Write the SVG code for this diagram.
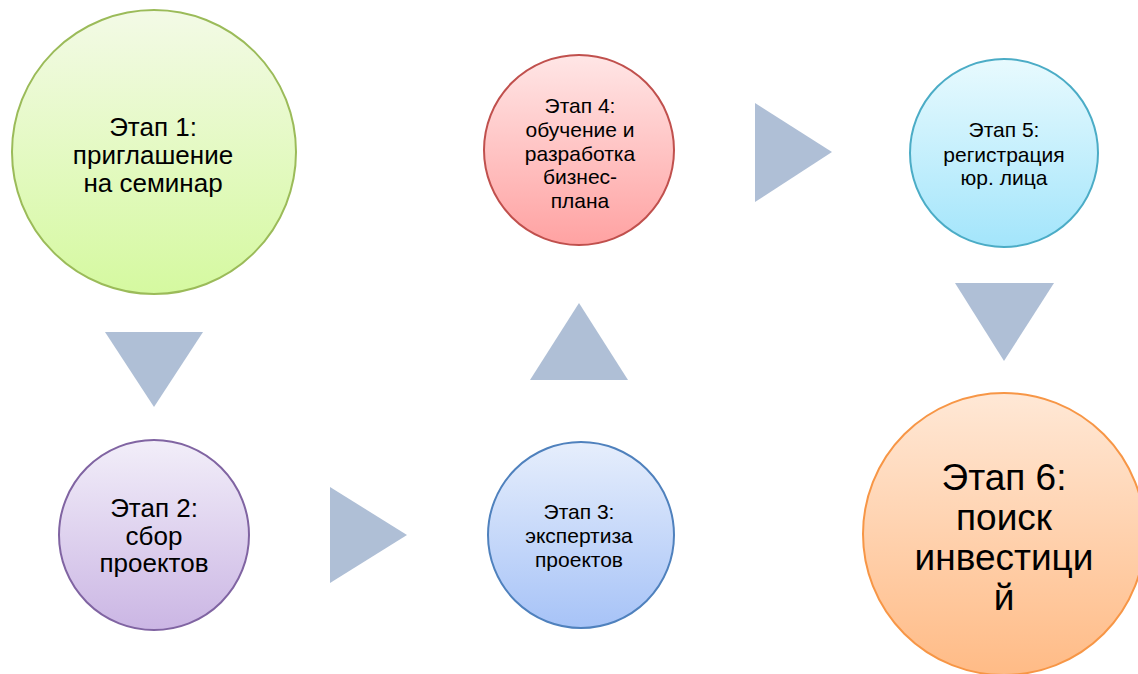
<svg xmlns="http://www.w3.org/2000/svg" width="1138" height="674" viewBox="0 0 1138 674">
<defs>
<linearGradient id="gGreen" x1="0" y1="0" x2="0" y2="1"><stop offset="0" stop-color="#F3FAE6"/><stop offset="1" stop-color="#D5F9A0"/></linearGradient>
<linearGradient id="gPurple" x1="0" y1="0" x2="0" y2="1"><stop offset="0" stop-color="#F2EEF9"/><stop offset="1" stop-color="#CBB6E4"/></linearGradient>
<linearGradient id="gBlue" x1="0" y1="0" x2="0" y2="1"><stop offset="0" stop-color="#E6EEFC"/><stop offset="1" stop-color="#A7C3F7"/></linearGradient>
<linearGradient id="gRed" x1="0" y1="0" x2="0" y2="1"><stop offset="0" stop-color="#FFE6E6"/><stop offset="1" stop-color="#FFA2A2"/></linearGradient>
<linearGradient id="gAqua" x1="0" y1="0" x2="0" y2="1"><stop offset="0" stop-color="#E8FAFE"/><stop offset="1" stop-color="#A3E5FB"/></linearGradient>
<linearGradient id="gOrange" x1="0" y1="0" x2="0" y2="1"><stop offset="0" stop-color="#FFE8D6"/><stop offset="1" stop-color="#FFBB86"/></linearGradient>
</defs>
<style>
.t{font-family:"Liberation Sans",Arial,sans-serif;fill:#000;text-anchor:middle}
.arrow{fill:#AFBFD6}
circle{stroke-width:2}
</style>
<rect width="1138" height="674" fill="#FFFFFF"/>
<g id="connectors">
<polygon class="arrow" points="105,332 203,332 154,407"/>
<polygon class="arrow" points="330,487 330,583 407,535"/>
<polygon class="arrow" points="530,380 628,380 579,303"/>
<polygon class="arrow" points="755,103 755,202 832,152"/>
<polygon class="arrow" points="955,283 1054,283 1004,361"/>
</g>
<g id="stage1">
<circle cx="154" cy="152" r="142" fill="url(#gGreen)" stroke="#9BBB59"/>
<text class="t" font-size="26"><tspan x="153" y="136">Этап 1:</tspan><tspan x="153" y="164">приглашение</tspan><tspan x="153" y="192">на семинар</tspan></text>
</g>
<g id="stage2">
<circle cx="154" cy="535" r="95" fill="url(#gPurple)" stroke="#8064A2"/>
<text class="t" font-size="26"><tspan x="154" y="517">Этап 2:</tspan><tspan x="154" y="545">сбор</tspan><tspan x="154" y="572">проектов</tspan></text>
</g>
<g id="stage3">
<circle cx="581" cy="535" r="93" fill="url(#gBlue)" stroke="#4F81BD"/>
<text class="t" font-size="21"><tspan x="579" y="519">Этап 3:</tspan><tspan x="579" y="543">экспертиза</tspan><tspan x="579" y="567">проектов</tspan></text>
</g>
<g id="stage4">
<circle cx="579" cy="150" r="95" fill="url(#gRed)" stroke="#C0504D"/>
<text class="t" font-size="21"><tspan x="580" y="113">Этап 4:</tspan><tspan x="580" y="137">обучение и</tspan><tspan x="580" y="161">разработка</tspan><tspan x="580" y="184">бизнес-</tspan><tspan x="580" y="208">плана</tspan></text>
</g>
<g id="stage5">
<circle cx="1004" cy="153" r="94" fill="url(#gAqua)" stroke="#4BACC6"/>
<text class="t" font-size="21"><tspan x="1004" y="137">Этап 5:</tspan><tspan x="1004" y="162">регистрация</tspan><tspan x="1004" y="185">юр. лица</tspan></text>
</g>
<g id="stage6">
<circle cx="1004" cy="534" r="141" fill="url(#gOrange)" stroke="#F79646"/>
<text class="t" font-size="37"><tspan x="1004" y="490">Этап 6:</tspan><tspan x="1004" y="530">поиск</tspan><tspan x="1004" y="570">инвестици</tspan><tspan x="1004" y="610">й</tspan></text>
</g>
</svg>
